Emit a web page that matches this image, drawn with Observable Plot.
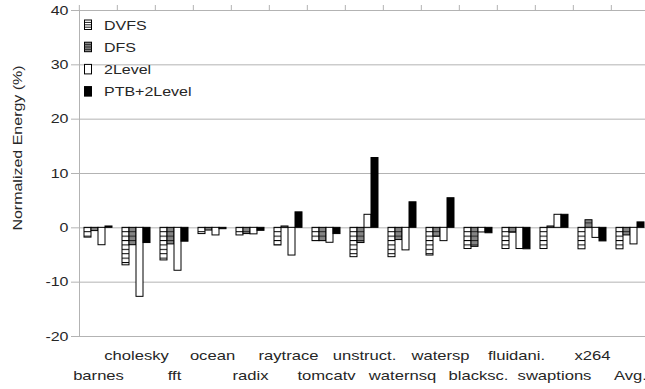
<!DOCTYPE html>
<html>
<head>
<meta charset="utf-8">
<script src="https://cdn.jsdelivr.net/npm/d3@7"></script>
<script src="https://cdn.jsdelivr.net/npm/@observablehq/plot@0.6"></script>
<style>
  html, body { margin: 0; padding: 0; background: #fff; }
  #chart { width: 645px; height: 389px; overflow: hidden; position: relative; }
</style>
</head>
<body>
<div id="chart"></div>
<script>
// Benchmarks along the x axis
const categories = ["barnes", "cholesky", "fft", "ocean", "radix", "raytrace", "tomcatv",
  "unstruct.", "waternsq", "watersp", "blacksc.", "fluidani.", "swaptions", "x264", "Avg."];

// Series names, in bar order within each group
const seriesNames = ["DVFS", "DFS", "2Level", "PTB+2Level"];

// Normalized energy (%) per benchmark, one array per series
const dvfs     = [-1.8, -6.9, -6.0, -1.15, -1.4, -3.25, -2.45, -5.4, -5.4, -5.1, -3.9, -3.9, -3.9, -3.95, -3.95];
const dfs      = [-0.6, -3.2, -3.05, -0.5, -1.15, 0.25, -2.45, -2.8, -2.25, -1.65, -3.5, -0.9, 0.25, 1.4, -1.4];
const twoLevel = [-3.2, -12.7, -7.9, -1.4, -1.2, -5.1, -2.75, 2.4, -4.15, -2.45, -0.85, -3.9, 2.4, -1.85, -3.05];
const ptb      = [0.25, -2.8, -2.55, -0.25, -0.55, 2.85, -1.15, 12.85, 4.7, 5.45, -1.0, -3.95, 2.4, -2.5, 1.0];

// Y axis ticks
const yTicks = [-20, -10, 0, 10, 20, 30, 40];

const seriesValues = [dvfs, dfs, twoLevel, ptb];
const rows = categories.flatMap((cat, i) =>
  seriesNames.map((series, j) => ({cat, series, value: seriesValues[j][i]})));

const fills = ["url(#fill-dvfs)", "url(#fill-dfs)", "#ffffff", "#000000"];
const gridColor = "#b3b3b3";
const textColor = "#262626";

const W = 645, H = 389, mL = 76, mR = -6, mT = 10, mB = 53;
const step = (W - mL - mR) / categories.length;

const plot = Plot.plot({
  width: W,
  height: H,
  marginLeft: mL,
  marginRight: mR,
  marginTop: mT,
  marginBottom: mB,
  style: {fontFamily: "'Liberation Sans', Arial, sans-serif", fontSize: "13px", color: textColor, background: "#fff", overflow: "visible"},
  fx: {domain: categories, padding: 0, label: null},
  x: {domain: seriesNames, paddingInner: 0, paddingOuter: 0.5, axis: null},
  y: {domain: [-20, 40]},
  color: {type: "ordinal", domain: seriesNames, range: fills},
  marks: [
    Plot.gridY(yTicks, {stroke: gridColor, strokeOpacity: 1}),
    Plot.barY(rows, {fx: "cat", x: "series", y1: 0, y2: "value", fill: "series", stroke: "#000", strokeWidth: 1}),
    Plot.axisY(yTicks, {tickSize: 8, tickPadding: 3, stroke: gridColor, fill: textColor, label: null, fontSize: 13, tickFormat: d => String(d)}),
    Plot.frame({anchor: "left", facetAnchor: "left", stroke: gridColor}),
    Plot.axisFx({tickSize: 6, tickFormat: () => "", stroke: gridColor, dx: -step / 2, label: null}),
    Plot.text(categories.filter((_, i) => i % 2 === 1), {fx: d => d, text: d => d, frameAnchor: "bottom", dy: 23, fontSize: 13.5, fill: textColor}),
    Plot.text(categories.filter((_, i) => i % 2 === 0), {fx: d => d, text: d => d, frameAnchor: "bottom", dy: 43, fontSize: 13.5, fill: textColor})
  ]
});

document.getElementById("chart").appendChild(plot);

const svg = d3.select(plot);
const y0 = plot.scale("y").apply(0);

// Hatched fills for DVFS (white) and DFS (gray), lines anchored on the zero line
const defs = svg.insert("defs", ":first-child");
function hatch(id, bg, line, gap, offset) {
  const p = defs.append("pattern")
    .attr("id", id)
    .attr("patternUnits", "userSpaceOnUse")
    .attr("width", 10).attr("height", gap)
    .attr("y", offset);
  p.append("rect").attr("width", 10).attr("height", gap).attr("fill", bg);
  p.append("line").attr("x1", 0).attr("x2", 10).attr("y1", 0.5).attr("y2", 0.5)
    .attr("stroke", line).attr("stroke-width", 1);
}
hatch("fill-dvfs", "#ffffff", "#000000", 4.4, y0 - 0.5);
hatch("fill-dfs", "#858585", "#222222", 4.4, y0 - 0.5);

// Legend in the upper left of the plot area
const legend = svg.append("g")
  .attr("font-size", 13)
  .attr("fill", textColor)
  .attr("text-anchor", "start");
const legendFill = ["#ffffff", "#858585", "#ffffff", "#000000"];
seriesNames.forEach((name, i) => {
  const top = 19.5 + i * 22.2;
  const g = legend.append("g").attr("transform", `translate(84,${top})`);
  g.append("rect").attr("x", 0.5).attr("y", 0.5).attr("width", 7).attr("height", 9.5)
    .attr("fill", legendFill[i]).attr("stroke", "#000").attr("stroke-width", 1);
  if (i < 2) {
    [2.9, 5.3, 7.7].forEach(ly => g.append("line")
      .attr("x1", 0.5).attr("x2", 7.5).attr("y1", ly).attr("y2", ly)
      .attr("stroke", i === 0 ? "#000" : "#222").attr("stroke-width", 0.9));
  }
  g.append("text").attr("x", 20).attr("y", 10).attr("text-anchor", "start").text(name);
});

// Y axis title
svg.append("text")
  .attr("transform", "translate(17,148) rotate(-90)")
  .attr("text-anchor", "middle")
  .attr("dominant-baseline", "central")
  .attr("font-size", 13)
  .attr("fill", textColor)
  .text("Normalized Energy (%)");

// Wide glyph advance of the chart's text rendering
svg.selectAll("text").each(function () {
  if (this.querySelector("tspan")) return;
  const len = this.getComputedTextLength();
  if (len > 0) {
    this.setAttribute("textLength", (len * 1.23).toFixed(2));
    this.setAttribute("lengthAdjust", "spacingAndGlyphs");
  }
});
</script>
</body>
</html>
